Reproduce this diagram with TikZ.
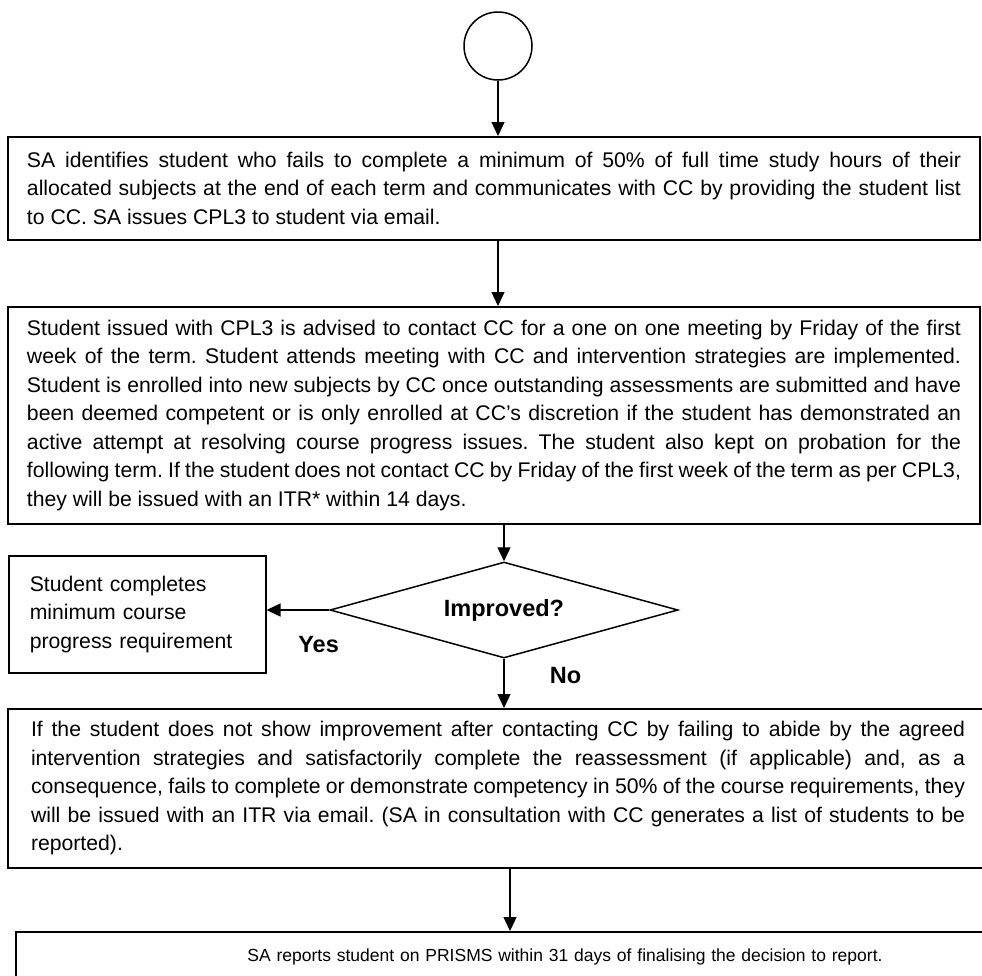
\documentclass[tikz,border=0pt]{standalone}
\usepackage{fontspec}
\setmainfont{Liberation Sans}
\usepackage{tikz}
\usetikzlibrary{shapes.geometric, arrows.meta, positioning}
\newcommand{\flowfont}{\frenchspacing\fontsize{21.2pt}{28.5pt}\selectfont}
\newcommand{\smallflowfont}{\fontsize{17.5pt}{22pt}\selectfont}
\tikzset{
  startC/.style={circle, draw, line width=1.5pt, minimum size=68pt, inner sep=0pt},
  block/.style={rectangle, draw, line width=1.5pt, text width=934pt,
                align=justify, inner xsep=19pt, anchor=north, font=\flowfont},
  blockC/.style={block, align=center, text width=1060pt, font=\smallflowfont},
  sideB/.style={rectangle, draw, line width=1.5pt, text width=215pt,
                align=left, inner xsep=21pt, anchor=north west, font=\flowfont},
  decisionD/.style={diamond, draw, line width=1.5pt, aspect=3.6, inner sep=0pt,
                    minimum width=348pt, minimum height=96pt,
                    font=\fontsize{23.5pt}{28pt}\selectfont\bfseries},
  arrow/.style={-{Triangle[length=14pt, width=13pt]}, line width=1.3pt},
  answer/.style={font=\fontsize{23.5pt}{28pt}\selectfont\bfseries},
}
\begin{document}
\begin{tikzpicture}[x=1pt, y=-1pt]
  \useasboundingbox (0,0) rectangle (982,975);

  \node[startC] (start) at (498,46) {};

  \node[block, minimum height=103pt] (box1) at (494,136)
    {SA identifies student who fails to complete a minimum of 50\% of full time study hours of their\linebreak
     allocated subjects at the end of each term and communicates with CC by providing the student list\linebreak
     to CC. SA issues CPL3 to student via email.};

  \node[block, minimum height=217pt] (box2) at (494,306)
    {Student issued with CPL3 is advised to contact CC for a one on one meeting by Friday of the first\linebreak
     week of the term. Student attends meeting with CC and intervention strategies are implemented.\linebreak
     Student is enrolled into new subjects by CC once outstanding assessments are submitted and have\linebreak
     been deemed competent or is only enrolled at CC’s discretion if the student has demonstrated an\linebreak
     active attempt at resolving course progress issues. The student also kept on probation for the\linebreak
     following term. If the student does not contact CC by Friday of the first week of the term as per CPL3,\linebreak
     they will be issued with an ITR* within 14 days.};

  \node[decisionD] (dec) at (504,610) {Improved?};

  \node[sideB, minimum height=117pt] (side) at (8,555)
    {Student completes\\minimum course\\progress requirement};

  \node[block, inner xsep=23pt, minimum height=159pt] (box3) at (498,708)
    {If the student does not show improvement after contacting CC by failing to abide by the agreed\linebreak
     intervention strategies and satisfactorily complete the reassessment (if applicable) and, as a\linebreak
     consequence, fails to complete or demonstrate competency in 50\% of the course requirements, they\linebreak
     will be issued with an ITR via email. (SA in consultation with CC generates a list of students to be\linebreak
     reported).};

  \node[blockC, minimum height=50pt] (box4) at (565,931)
    {SA reports student on PRISMS within 31 days of finalising the decision to report.};

  % connectors
  \draw[arrow] (start.south) -- (start.south |- box1.north);
  \draw[arrow] (box1.south -| start) -- (box2.north -| start);
  \draw[arrow] (box2.south -| dec) -- (dec.north);
  \draw[arrow] (dec.west) -- node[answer, pos=0.17, yshift=-35pt] (yes) {Yes} (dec.west -| side.east);
  \draw[arrow] (dec.south) -- node[answer, pos=0.34, right=42pt] (no) {No} (dec.south |- box3.north);
  \draw[arrow] ([xshift=12pt]box3.south) -- ([xshift=12pt]box3.south |- box4.north);

\end{tikzpicture}
\end{document}
